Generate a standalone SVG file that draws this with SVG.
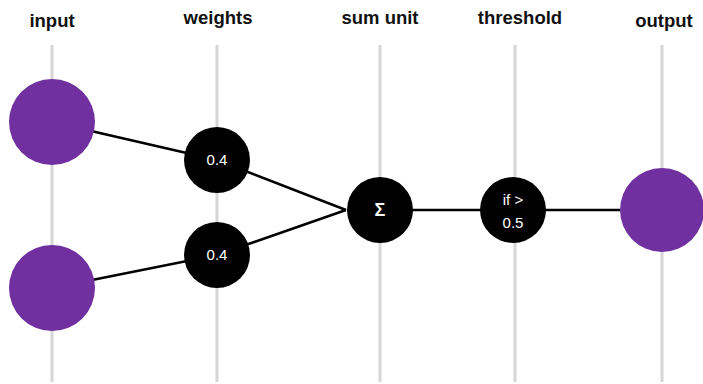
<svg xmlns="http://www.w3.org/2000/svg" width="703" height="384" viewBox="0 0 703 384">
  <style>
    .guide { stroke: #d6d6d6; stroke-width: 3; }
    .edge { stroke: #000; stroke-width: 2.5; fill: none; }
    .io { fill: #7030a0; }
    .unit { fill: #000; }
    .head { font-family: "Liberation Sans", Arial, sans-serif; font-weight: bold; font-size: 18.5px; fill: #111; text-anchor: middle; }
    .val { font-family: "Liberation Sans", Arial, sans-serif; font-size: 15px; fill: #fff; text-anchor: middle; }
    .sigma { font-size: 18px; font-weight: bold; }
  </style>
  <rect width="703" height="384" fill="#fff"/>

  <!-- column headings -->
  <g id="headings">
    <text class="head" x="52" y="27">input</text>
    <text class="head" x="218" y="24">weights</text>
    <text class="head" x="380" y="24">sum unit</text>
    <text class="head" x="520" y="24">threshold</text>
    <text class="head" x="664" y="27">output</text>
  </g>

  <!-- vertical guide lines for each column -->
  <g id="guides">
    <line class="guide" x1="52" y1="45" x2="52" y2="382"/>
    <line class="guide" x1="217" y1="45" x2="217" y2="382"/>
    <line class="guide" x1="380" y1="45" x2="380" y2="382"/>
    <line class="guide" x1="515" y1="45" x2="515" y2="382"/>
    <line class="guide" x1="662" y1="45" x2="662" y2="382"/>
  </g>

  <!-- connectors -->
  <g id="connectors">
    <line class="edge" x1="52" y1="122" x2="217" y2="160"/>
    <line class="edge" x1="52" y1="288" x2="217" y2="255"/>
    <line class="edge" x1="217" y1="160" x2="346" y2="210"/>
    <line class="edge" x1="217" y1="255" x2="346" y2="210"/>
    <line class="edge" x1="380" y1="210" x2="513" y2="210"/>
    <line class="edge" x1="513" y1="210" x2="662" y2="210"/>
  </g>

  <g id="input1">
    <circle class="io" cx="52" cy="122" r="43"/>
  </g>
  <g id="input2">
    <circle class="io" cx="52" cy="288" r="43"/>
  </g>

  <g id="weight1">
    <circle class="unit" cx="217" cy="160" r="33"/>
    <text class="val" x="217" y="165">0.4</text>
  </g>
  <g id="weight2">
    <circle class="unit" cx="217" cy="255" r="33"/>
    <text class="val" x="217" y="260">0.4</text>
  </g>

  <g id="sum">
    <circle class="unit" cx="380" cy="210" r="33"/>
    <text class="val sigma" x="380" y="216">Σ</text>
  </g>

  <g id="threshold">
    <circle class="unit" cx="513" cy="210" r="33"/>
    <text class="val" x="513" y="205">if &gt;</text>
    <text class="val" x="513" y="228">0.5</text>
  </g>

  <g id="output">
    <circle class="io" cx="662" cy="210" r="42"/>
  </g>
</svg>
